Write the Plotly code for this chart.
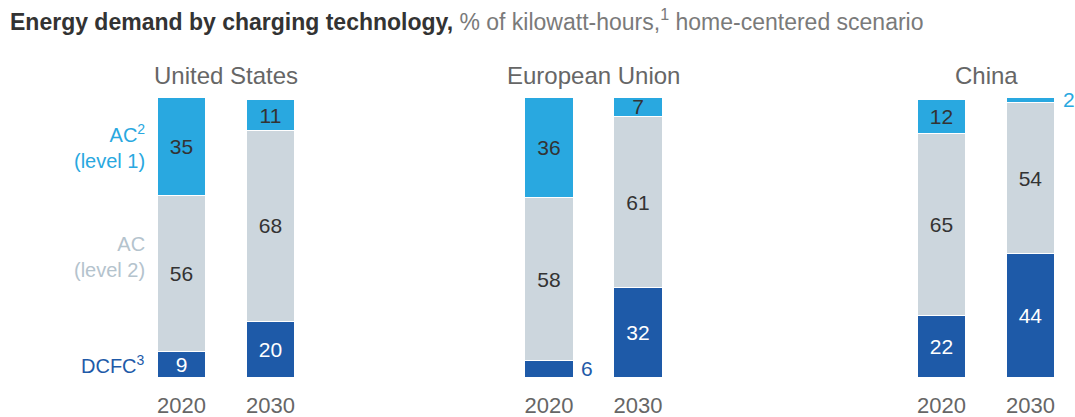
import plotly.graph_objects as go

# Share of charging energy (% of kWh), home-centered scenario
years = ["2020", "2030"]
regions = ["United States", "European Union", "China"]
ac_level1 = [[35, 11], [36, 7], [12, 2]]
ac_level2 = [[56, 68], [58, 61], [65, 54]]
dcfc = [[9, 20], [6, 32], [22, 44]]

C_AC1 = "#29a8e0"
C_AC2 = "#ccd6dd"
C_DCFC = "#1e5aa8"
FONT = "Liberation Sans, Arial, sans-serif"
NUM_SIZE = 21

W, H = 1075, 417
# horizontal panel extents in pixels, vertical plot band in pixels
panels_px = [(137, 315), (504.5, 682.5), (897, 1075)]
top_px, bottom_px = 97, 377
SMALL = 7  # segments too thin to hold their label inside

fig = go.Figure()

series = [
    ("DCFC", dcfc, C_DCFC, "white"),
    ("AC level 2", ac_level2, C_AC2, "#333333"),
    ("AC level 1", ac_level1, C_AC1, "#333333"),
]

for i, region in enumerate(regions):
    xa = "x" if i == 0 else f"x{i + 1}"
    ya = "y" if i == 0 else f"y{i + 1}"
    for name, vals, color, tcolor in series:
        v = vals[i]
        fig.add_trace(go.Bar(
            x=years, y=v, name=name, xaxis=xa, yaxis=ya,
            marker=dict(color=color, line=dict(color="white", width=1)),
            width=0.55,
            text=[str(t) if t >= SMALL else "" for t in v],
            textposition="inside", insidetextanchor="middle",
            textangle=0, constraintext="none",
            textfont=dict(color=tcolor, size=NUM_SIZE, family=FONT),
            hoverinfo="skip", showlegend=False,
        ))

    x0, x1 = panels_px[i]
    axis_kw = dict(domain=[x0 / W, x1 / W], range=[-0.5, 1.5], type="category",
                   showgrid=False, zeroline=False, showline=False, ticks="",
                   automargin=False,
                   tickfont=dict(size=22, color="#666666", family=FONT),
                   ticklabelstandoff=13)
    yaxis_kw = dict(domain=[(H - bottom_px) / H, (H - top_px) / H], range=[0, 100],
                    showgrid=False, zeroline=False, showline=False,
                    showticklabels=False, ticks="", automargin=False)
    key = "" if i == 0 else str(i + 1)
    fig.update_layout(**{f"xaxis{key}": dict(axis_kw, anchor=ya),
                         f"yaxis{key}": dict(yaxis_kw, anchor=xa)})

    # region heading, centred over the two bars
    fig.add_annotation(text=region, xref="paper", yref="paper",
                       x=(x0 + x1) / 2 / W, y=(H - 75) / H, showarrow=False,
                       xanchor="center", yanchor="middle",
                       font=dict(size=24, color="#666666", family=FONT))

    # thin segments get their value outside, to the right of the bar
    for j in range(len(years)):
        stacks = [
            (dcfc[i][j], C_DCFC, 0),
            (ac_level1[i][j], C_AC1, dcfc[i][j] + ac_level2[i][j]),
        ]
        for v, color, base in stacks:
            if v < SMALL:
                fig.add_annotation(text=str(v), xref=xa, yref=ya, x=j,
                                   y=base + v / 2, xanchor="left", yanchor="middle",
                                   xshift=30, showarrow=False,
                                   font=dict(size=NUM_SIZE, color=color, family=FONT))

# series labels beside the first panel
lab_x = 147 / W
us0 = 0
fig.add_annotation(text="AC<sup>2</sup><br>(level 1)", xref="paper", yref="y",
                   x=lab_x, y=100 - ac_level1[0][us0] / 2, xanchor="right",
                   yanchor="middle", align="right", showarrow=False,
                   font=dict(size=20, color=C_AC1, family=FONT))
fig.add_annotation(text="AC<br>(level 2)", xref="paper", yref="y",
                   x=lab_x, y=dcfc[0][us0] + ac_level2[0][us0] / 2 + 6, xanchor="right",
                   yanchor="middle", align="right", showarrow=False,
                   font=dict(size=20, color="#b4c3cd", family=FONT))
fig.add_annotation(text="DCFC<sup>3</sup>", xref="paper", yref="y",
                   x=lab_x, y=dcfc[0][us0] / 2, xanchor="right",
                   yanchor="middle", align="right", showarrow=False,
                   font=dict(size=20, color=C_DCFC, family=FONT))

# chart title
fig.add_annotation(
    text="<b>Energy demand by charging technology,</b> "
         "<span style='color:#7a7a7a'>% of kilowatt-hours,<sup>1</sup> home-centered scenario</span>",
    xref="paper", yref="paper", x=8 / W, y=(H - 20) / H, xanchor="left",
    yanchor="middle", showarrow=False,
    font=dict(size=23, color="#333333", family=FONT))

fig.update_layout(width=W, height=H, margin=dict(l=0, r=0, t=0, b=0),
                  barmode="stack", paper_bgcolor="white", plot_bgcolor="white")

fig.write_html("out.html")
